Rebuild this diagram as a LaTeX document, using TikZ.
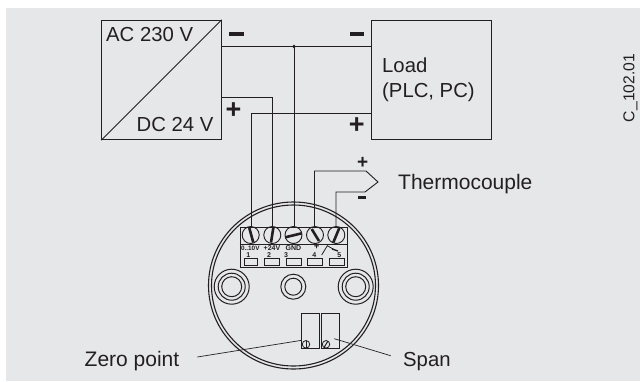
\documentclass[tikz,border=0pt]{standalone}
\usepackage{fontspec}
\setmainfont{Liberation Sans}
\definecolor{bgc}{HTML}{E6E7E8}
\definecolor{ink}{HTML}{231F20}
\begin{document}
\begin{tikzpicture}[x=1pt,y=-1pt,
  wire/.style={draw=ink,line width=0.9pt},
  thin part/.style={draw=ink,line width=0.9pt},
  lbl/.style={inner sep=0pt,text=ink,font=\fontsize{20.3}{25}\selectfont},
  lblb/.style={inner sep=0pt,text=ink,font=\fontsize{21}{25}\selectfont},
  sign/.style={inner sep=0pt,text=ink,font=\fontsize{27}{28}\selectfont\bfseries},
  tiny/.style={inner sep=0pt,text=ink,font=\fontsize{7}{7}\selectfont\bfseries},
  slot/.style={draw=ink,line width=0.8pt},
  screw/.style={circle,draw=ink,line width=0.9pt,minimum size=17pt,inner sep=0pt}]
\useasboundingbox (0,0) rectangle (640,381);
\fill[white] (0,0) rectangle (640,381);
\fill[bgc] (6,8) rectangle (640,381);
% housing
\draw[thin part,line width=1.1pt] (293.5,285.5) ellipse [x radius=85,y radius=83.5];
\draw[thin part,line width=1.1pt] (293.5,285.5) ellipse [x radius=82,y radius=80.5];
% supply and load
\node[draw=ink,line width=0.9pt,minimum width=119.5pt,minimum height=119.5pt,inner sep=0pt] (psu) at (161.5,80) {};
\node[draw=ink,line width=0.9pt,minimum width=120pt,minimum height=119pt,inner sep=0pt] (load) at (431,79.5) {};
\draw[thin part] (psu.south west) -- (psu.north east);
\node[lbl,anchor=base west] (ac) at (106,41.5) {AC 230 V};
\node[lbl,anchor=base west] (dc) at (136.5,131) {DC 24 V};
\node[lbl,anchor=north west,align=left] (loadt) at (382,57.5) {Load\\(PLC, PC)};
\node[lblb,anchor=base west] (tc) at (398,189) {Thermocouple};
\node[lblb,anchor=base west] (zp) at (84.5,366.5) {Zero point};
\node[lbl,anchor=base west] (sp) at (403,366.5) {Span};
\node[inner sep=0pt,text=ink,font=\fontsize{15.7}{16}\selectfont,rotate=90] (code) at (630.5,88) {C\_102.01};
% signs
\node[inner sep=0pt,fill=ink,minimum width=15pt,minimum height=4.6pt] (m1) at (236.7,34) {};
\node[inner sep=0pt,fill=ink,minimum width=14pt,minimum height=4.6pt] (m2) at (357,34) {};
\node[sign] (p1) at (233.5,110.5) {+};
\node[sign] (p2) at (356.7,126) {+};
\node[sign,font=\fontsize{19}{20}\selectfont\bfseries] (p3) at (362.7,163) {+};
\node[inner sep=0pt,fill=ink,minimum width=8pt,minimum height=3.4pt] (m3) at (361.7,197.7) {};
% terminal block
\node[draw=ink,line width=0.9pt,fill=bgc,minimum width=107pt,minimum height=40pt,inner sep=0pt] (strip) at (293.5,247) {};
\draw[thin part] (strip.west |- 0,244) -- (strip.east |- 0,244);
\node[screw] (sa) at (250.7,235) {};
\node[screw] (sb) at (272.3,235) {};
\node[screw] (sc) at (293.5,235) {};
\node[screw] (sd) at (315,235) {};
\node[screw] (se) at (336.3,235) {};
\draw[ink,line width=2.6pt] (249.3,228) -- (253.3,242.5);
\draw[ink,line width=2.6pt] (273.3,228) -- (271,242.5);
\draw[ink,line width=2.6pt] (285.2,237.3) -- (301.7,233.3);
\draw[ink,line width=2.6pt] (311.7,229) -- (319,241);
\draw[ink,line width=2.6pt] (339.3,228) -- (333.3,242.5);
\foreach \n/\x/\w in {a/250.5/13,b/272/15,c/293.5/15,d/314.5/15,e/336.5/15}{
  \node[slot,minimum width=\w pt,minimum height=6.5pt,inner sep=0pt] (t\n) at (\x,262) {};
}
\node[tiny,font=\fontsize{6.4}{7}\selectfont\bfseries] (la) at (250.3,247.8) {0..10V};
\node[tiny] (lb) at (272,247.8) {+24V};
\node[tiny] (lc) at (293.5,247.8) {GND};
\node[tiny,font=\fontsize{9.5}{10}\selectfont\bfseries] (ld) at (316.7,247) {+};
\node[tiny] (n1) at (248.3,255) {1};
\node[tiny] (n2) at (269,255) {2};
\node[tiny] (n3) at (286,255) {3};
\node[tiny] (n4) at (314.3,255) {4};
\node[tiny] (n5) at (339.3,255) {5};
\draw[ink,line width=0.8pt] (321.7,255) -- (327.3,245.7) -- (334,249.5);
\draw[ink,line width=1.3pt] (332,249) -- (338,251);
% mounts
\foreach \n/\x in {l/231.7,r/355.7}{
  \node[circle,draw=ink,line width=1pt,minimum size=35pt,inner sep=0pt] (m\n) at (\x,286.7) {};
  \node[circle,draw=ink,line width=1pt,minimum size=27pt,inner sep=0pt] at (\x,286.7) {};
  \node[circle,draw=ink,line width=1pt,minimum size=20pt,inner sep=0pt] at (\x,286.7) {};
}
\node[circle,draw=ink,line width=1pt,minimum size=25pt,inner sep=0pt] (mc) at (293.3,286.7) {};
\node[circle,draw=ink,line width=1pt,minimum size=17pt,inner sep=0pt] at (293.3,286.7) {};
% trimmers
\node[draw=ink,line width=1pt,minimum width=18pt,minimum height=35.5pt,inner sep=0pt] (tz) at (310.3,331) {};
\node[draw=ink,line width=1pt,minimum width=18.4pt,minimum height=35.5pt,inner sep=0pt] (ts) at (330.5,331) {};
\node[circle,draw=ink,line width=0.8pt,minimum size=7.5pt,inner sep=0pt] (sz) at (306,344.3) {};
\node[circle,draw=ink,line width=0.8pt,minimum size=7.5pt,inner sep=0pt] (ss) at (326,344.3) {};
\draw[ink,line width=1pt] (306,340.5) -- (306,348);
\draw[ink,line width=1pt] (324,347.5) -- (328,341);
% leaders
\coordinate (zl) at (197.3,357);
\coordinate (zr) at (301.7,340.3);
\coordinate (sl) at (334.3,338.7);
\coordinate (sr) at (390.7,355.7);
\draw[ink,line width=0.7pt] (zl) -- (zr);
\draw[ink,line width=0.7pt] (sl) -- (sr);
% wires
\coordinate (dot) at (294,46.5);
\draw[wire] (psu.east |- dot) -- (load.west |- dot);
\fill[ink] (dot) circle (1.9);
\draw[wire] (dot) -- ([yshift=-2pt]dot |- sc.north);
\coordinate (w1a) at (221.3,97);
\coordinate (w1b) at (272.5,97);
\draw[wire] (w1a) -- (w1b) -- ([yshift=-2pt]w1b |- sb.north);
\coordinate (w2a) at (371,113);
\coordinate (w2b) at (251,113);
\draw[wire] (w2a) -- (w2b) -- ([yshift=-2pt]w2b |- sa.north);
\coordinate (tc1) at (314.5,171);
\coordinate (tc2) at (366,171);
\coordinate (tc3) at (378,182);
\coordinate (tc4) at (365,192);
\coordinate (tc5) at (336,192);
\draw[wire] ([yshift=-2pt]tc1 |- sd.north) -- (tc1) -- (tc2) -- (tc3) -- (tc4) -- (tc5) -- ([yshift=-2pt]tc5 |- se.north);
\end{tikzpicture}
\end{document}
